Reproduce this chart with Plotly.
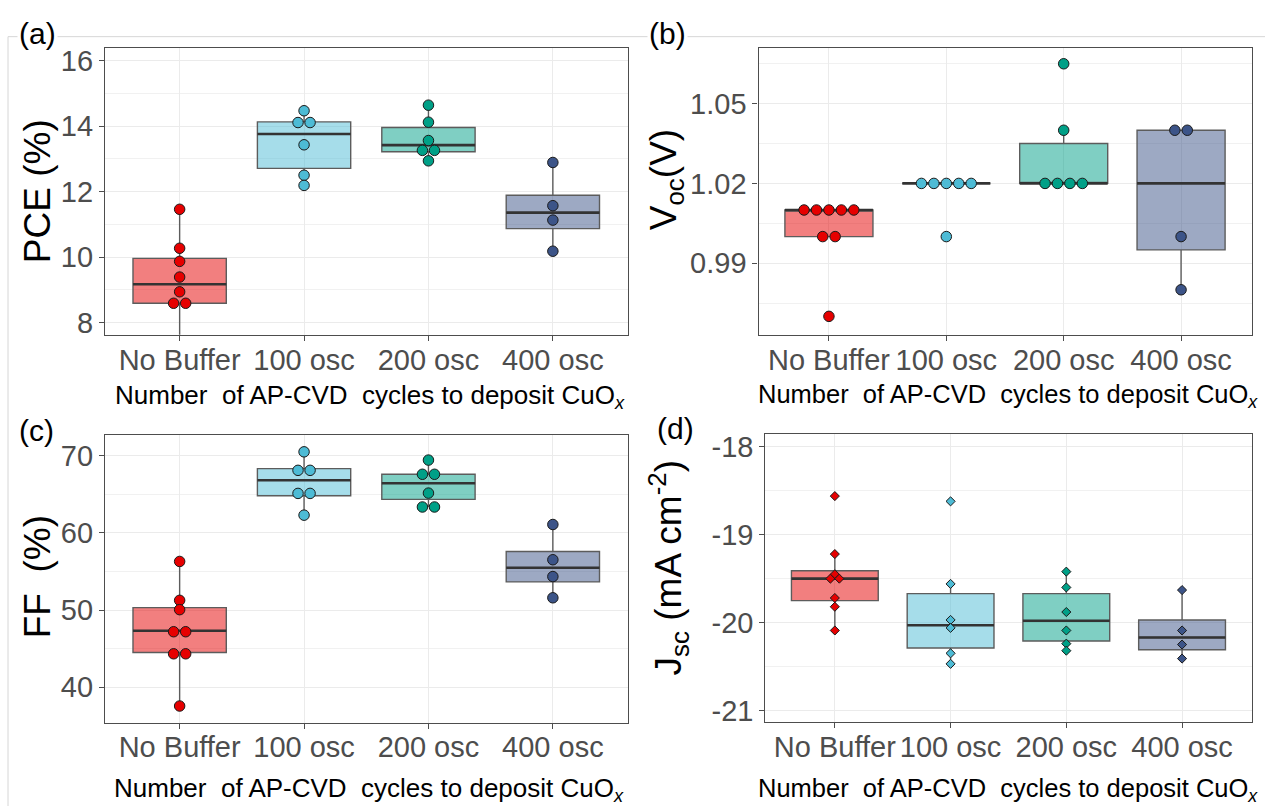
import plotly.graph_objects as go
from collections import Counter, defaultdict

W, H = 1265, 811

categories = ["No Buffer", "100 osc", "200 osc", "400 osc"]
positions = [1, 2, 3, 4]

point_colors = ["#E60000", "#4DBBD5", "#00A087", "#3C5488"]
fill_colors = ["rgba(230,0,0,0.5)", "rgba(77,187,213,0.5)", "rgba(0,160,135,0.5)", "rgba(60,84,136,0.5)"]

# ---------------- (a) PCE ----------------
pce_nobuffer = [11.46, 10.27, 9.87, 9.39, 8.94, 8.59, 8.59, 7.40]
pce_100 = [14.47, 14.11, 14.11, 13.43, 12.50, 12.19]
pce_200 = [14.64, 14.12, 13.56, 13.26, 13.26, 12.94]
pce_400 = [12.89, 11.57, 11.13, 10.18]
pce_q1 = [8.59, 12.71, 13.22, 10.87]
pce_med = [9.17, 13.76, 13.42, 11.36]
pce_q3 = [9.96, 14.13, 13.96, 11.89]
pce_lo = [7.40, 12.19, 12.94, 10.18]
pce_hi = [11.46, 14.47, 14.64, 12.89]

# ---------------- (b) Voc ----------------
voc_nobuffer = [1.01, 1.01, 1.01, 1.01, 1.01, 1.00, 1.00, 0.97]
voc_100 = [1.02, 1.02, 1.02, 1.02, 1.02, 1.00]
voc_200 = [1.065, 1.04, 1.02, 1.02, 1.02, 1.02]
voc_400 = [1.04, 1.04, 1.00, 0.98]
voc_q1 = [1.00, 1.02, 1.02, 0.995]
voc_med = [1.01, 1.02, 1.02, 1.02]
voc_q3 = [1.01, 1.02, 1.035, 1.04]
voc_lo = [1.00, 1.02, 1.02, 0.98]
voc_hi = [1.01, 1.02, 1.04, 1.04]

# ---------------- (c) FF ----------------
ff_nobuffer = [56.30, 51.26, 50.05, 47.19, 47.19, 44.33, 44.33, 37.56]
ff_100 = [70.51, 68.11, 68.11, 65.12, 65.12, 62.30]
ff_200 = [69.44, 67.60, 67.60, 65.16, 63.36, 63.36]
ff_400 = [61.09, 56.52, 54.34, 51.59]
ff_q1 = [44.49, 64.82, 64.35, 53.65]
ff_med = [47.32, 66.83, 66.44, 55.49]
ff_q3 = [50.31, 68.33, 67.60, 57.59]
ff_lo = [37.56, 62.30, 63.36, 51.59]
ff_hi = [56.30, 70.51, 69.44, 61.09]

# ---------------- (d) Jsc ----------------
jsc_nobuffer = [-18.56, -19.22, -19.45, -19.50, -19.50, -19.72, -19.82, -20.09]
jsc_100 = [-18.62, -19.56, -19.97, -20.06, -20.35, -20.47]
jsc_200 = [-19.42, -19.60, -19.88, -20.09, -20.24, -20.32]
jsc_400 = [-19.63, -20.09, -20.25, -20.41]
jsc_q1 = [-19.75, -20.29, -20.21, -20.31]
jsc_med = [-19.50, -20.03, -19.98, -20.17]
jsc_q3 = [-19.41, -19.67, -19.67, -19.97]
jsc_lo = [-20.09, -20.47, -20.32, -20.41]
jsc_hi = [-19.22, -19.56, -19.42, -19.63]

jsc_ticks = [-18, -19, -20, -21]
jsc_ticktext = ["-18", "-19", "-20", "-21"]


def px(x):
    return x / W


def py(y):
    return 1 - y / H


def stack_offsets(vals, spacing):
    counts = Counter(vals)
    seen = defaultdict(int)
    out = []
    for v in vals:
        n = counts[v]
        i = seen[v]
        seen[v] += 1
        out.append((i - (n - 1) / 2) * spacing)
    return out


panels = [
    dict(groups=[pce_nobuffer, pce_100, pce_200, pce_400], q1=pce_q1, med=pce_med, q3=pce_q3,
         lo=pce_lo, hi=pce_hi, spacing=0.097, size=10.5, symbol="circle",
         xdom=(105, 627.5), ydom=(45, 335), yrange=[7.63, 16.40],
         yaxis=dict(tick0=8, dtick=2, minor=dict(dtick=1, showgrid=True, gridcolor="#F1F1F1", gridwidth=1))),
    dict(groups=[voc_nobuffer, voc_100, voc_200, voc_400], q1=voc_q1, med=voc_med, q3=voc_q3,
         lo=voc_lo, hi=voc_hi, spacing=0.106, size=10.5, symbol="circle",
         xdom=(758.5, 1251.5), ydom=(45, 335), yrange=[0.9631, 1.0711],
         yaxis=dict(tick0=0.99, dtick=0.03, tickformat=".2f",
                    minor=dict(dtick=0.015, showgrid=True, gridcolor="#F1F1F1", gridwidth=1))),
    dict(groups=[ff_nobuffer, ff_100, ff_200, ff_400], q1=ff_q1, med=ff_med, q3=ff_q3,
         lo=ff_lo, hi=ff_hi, spacing=0.097, size=10.5, symbol="circle",
         xdom=(105, 627.5), ydom=(436, 726.7), yrange=[35.42, 72.73],
         yaxis=dict(tick0=40, dtick=10, minor=dict(dtick=5, showgrid=True, gridcolor="#F1F1F1", gridwidth=1))),
    dict(groups=[jsc_nobuffer, jsc_100, jsc_200, jsc_400], q1=jsc_q1, med=jsc_med, q3=jsc_q3,
         lo=jsc_lo, hi=jsc_hi, spacing=0.077, size=7, symbol="diamond",
         xdom=(765.4, 1251.5), ydom=(435, 726), yrange=[-21.13, -17.85],
         yaxis=dict(tickmode="array", tickvals=jsc_ticks, ticktext=jsc_ticktext,
                    minor=dict(dtick=0.5, tick0=-21, showgrid=True, gridcolor="#F1F1F1", gridwidth=1))),
]

fig = go.Figure()
box_w = 0.75

for k, p in enumerate(panels):
    xa = "x" if k == 0 else f"x{k+1}"
    ya = "y" if k == 0 else f"y{k+1}"
    for i, pos in enumerate(positions):
        fig.add_trace(go.Box(
            x=[pos], q1=[p["q1"][i]], median=[p["med"][i]], q3=[p["q3"][i]],
            lowerfence=[p["lo"][i]], upperfence=[p["hi"][i]],
            width=box_w, whiskerwidth=0, fillcolor=fill_colors[i],
            line=dict(color="#5c5c5c", width=1.4), boxpoints=False,
            xaxis=xa, yaxis=ya, showlegend=False, hoverinfo="skip"))
        fig.add_trace(go.Scatter(
            x=[pos - box_w / 2, pos + box_w / 2], y=[p["med"][i], p["med"][i]],
            mode="lines", line=dict(color="#333333", width=2.6),
            xaxis=xa, yaxis=ya, showlegend=False, hoverinfo="skip"))
    for i, pos in enumerate(positions):
        vals = p["groups"][i]
        offs = stack_offsets(vals, p["spacing"])
        fig.add_trace(go.Scatter(
            x=[pos + o for o in offs], y=vals, mode="markers",
            marker=dict(color=point_colors[i], size=p["size"], symbol=p["symbol"],
                        line=dict(color="#1a1a1a", width=1)),
            xaxis=xa, yaxis=ya, showlegend=False, hoverinfo="skip"))

    axis_common = dict(showline=True, linecolor="#4d4d4d", linewidth=1.3, mirror=True,
                       ticks="outside", ticklen=5, tickwidth=1.2, tickcolor="#4d4d4d",
                       tickfont=dict(family="Liberation Sans, Arial", size=29, color="#4d4d4d"),
                       showgrid=True, gridcolor="#EBEBEB", gridwidth=1.2, zeroline=False)
    xname = "xaxis" if k == 0 else f"xaxis{k+1}"
    yname = "yaxis" if k == 0 else f"yaxis{k+1}"
    fig.update_layout(**{
        xname: dict(axis_common, domain=[px(p["xdom"][0]), px(p["xdom"][1])], range=[0.4, 4.6],
                    tickmode="array", tickvals=positions, ticktext=categories, anchor=ya,
                    ticklabelstandoff=-6),
        yname: dict(axis_common, domain=[py(p["ydom"][1]), py(p["ydom"][0])], range=p["yrange"],
                    anchor=xa, **p["yaxis"]),
    })

annotations = []
font_title = dict(family="Liberation Sans, Arial", color="black")
xtitle = "Number\u00a0 of AP-CVD\u00a0 cycles to deposit CuO<sub><i>x</i></sub>"
for (cx, cy, fs) in [(370, 397, 26), (1008, 397, 25.5), (369, 794, 26), (1008, 795, 25.5)]:
    annotations.append(dict(text=xtitle, x=px(cx), y=py(cy), xref="paper", yref="paper",
                            showarrow=False, xanchor="center", yanchor="middle",
                            font=dict(font_title, size=fs)))
ytitles = [("PCE (%)", 37, 190), ("V<sub>oc</sub>(V)", 666, 179),
           ("FF\u00a0 (%)", 37, 580), ("J<sub>sc</sub> (mA cm<sup>-2</sup>)", 668, 570)]
for t, cx, cy in ytitles:
    annotations.append(dict(text=t, x=px(cx), y=py(cy), xref="paper", yref="paper",
                            showarrow=False, textangle=-90, xanchor="center", yanchor="middle",
                            font=dict(font_title, size=37)))
for t, lx, cy in [("(a)", 17, 31), ("(b)", 647, 31), ("(c)", 17, 432), ("(d)", 655, 430)]:
    annotations.append(dict(text=t, x=px(lx), y=py(cy), xref="paper", yref="paper",
                            showarrow=False, xanchor="left", yanchor="middle",
                            bgcolor="white", font=dict(font_title, size=30)))

shapes = [
    dict(type="line", xref="paper", yref="paper", x0=px(8), x1=1, y0=py(34), y1=py(34),
         line=dict(color="#D6D6D6", width=1), layer="below"),
    dict(type="line", xref="paper", yref="paper", x0=px(8), x1=px(8), y0=py(34), y1=0,
         line=dict(color="#D6D6D6", width=1), layer="below"),
]

fig.update_layout(width=W, height=H, margin=dict(l=0, r=0, t=0, b=0),
                  paper_bgcolor="white", plot_bgcolor="white",
                  annotations=annotations, shapes=shapes, showlegend=False,
                  font=dict(family="Liberation Sans, Arial"))

fig.write_html("out.html")
